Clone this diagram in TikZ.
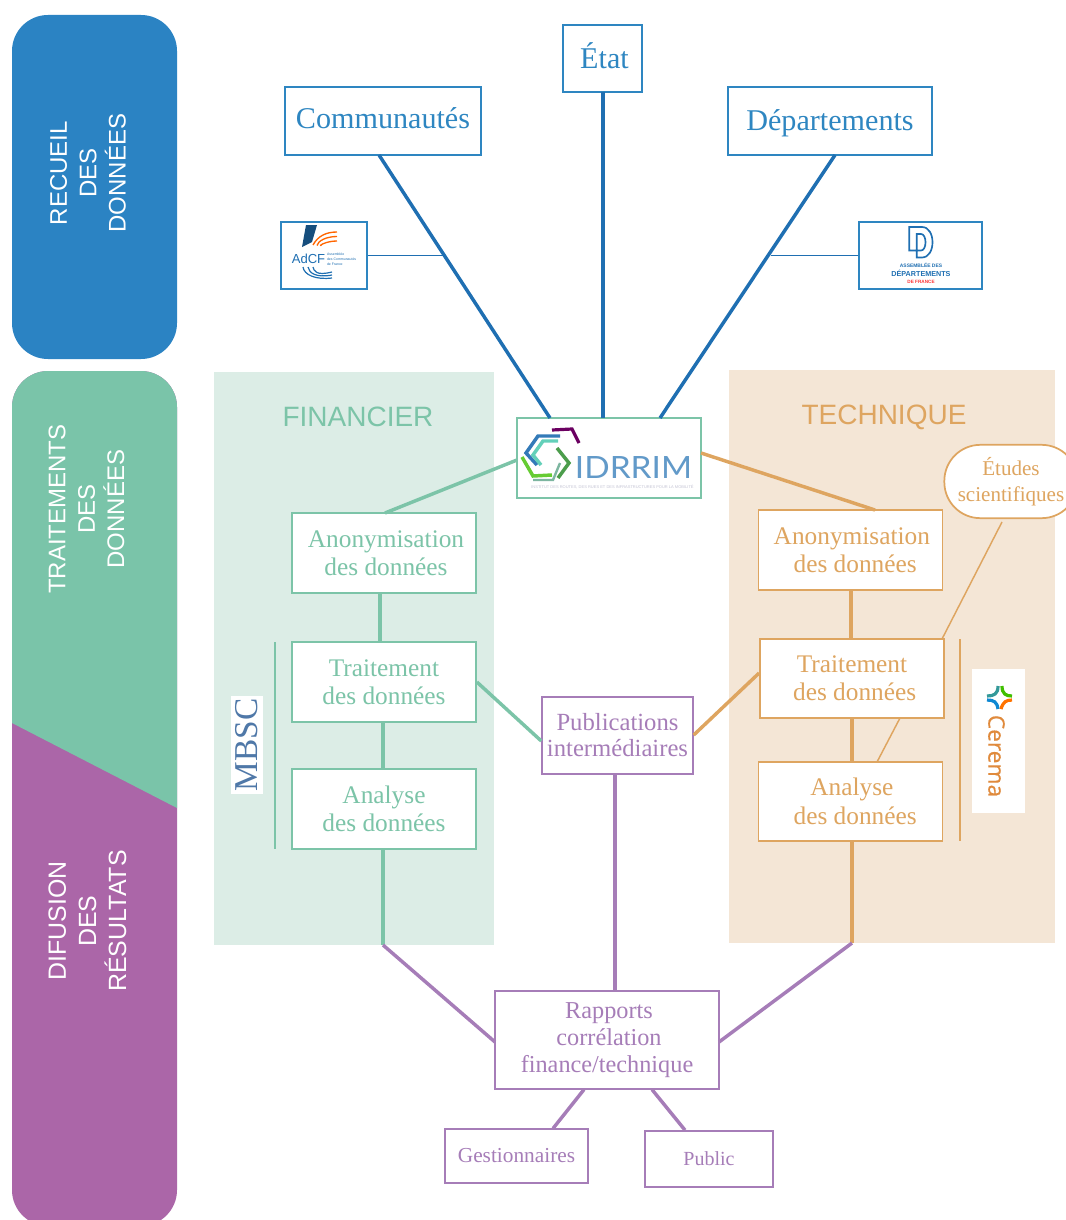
\documentclass[tikz,border=0pt]{standalone}
\usepackage{fontspec}
\setmainfont{Liberation Serif}
\setsansfont{Liberation Sans}
\newfontfamily\logofont{Lato}
\newfontfamily\ceremafont[FakeBold=0.4]{Open Sans}
\usetikzlibrary{positioning}
\definecolor{bluetext}{HTML}{2E86C1}
\definecolor{blueline}{HTML}{1F6FB2}
\definecolor{greenline}{HTML}{7CC4A8}
\definecolor{orangeline}{HTML}{DEA560}
\definecolor{purpleline}{HTML}{A67DB8}
\definecolor{bannerblue}{HTML}{2B83C3}
\definecolor{bannergreen}{HTML}{7AC4A9}
\definecolor{bannerpurple}{HTML}{AB66A8}
\definecolor{greenpanel}{HTML}{DCEDE6}
\definecolor{orangepanel}{HTML}{F4E6D6}
\definecolor{mbscblue}{HTML}{4F78A8}
\definecolor{ceremaorange}{HTML}{E08A3C}
\newcommand{\boxfont}{\fontsize{19}{21.3}\selectfont}
\begin{document}
\begin{tikzpicture}[x=0.75pt,y=-0.75pt,
    box node/.style={rectangle,draw,fill=white,line width=1.3pt,inner sep=0pt,align=center,font=\boxfont},
    blue node/.style={box node,draw=bluetext,text=bluetext,font=\fontsize{22.6}{26}\selectfont},
    green node/.style={box node,draw=greenline,text=greenline,minimum width=138pt,minimum height=60pt},
    orange node/.style={box node,draw=orangeline,text=orangeline,minimum width=138pt,minimum height=60pt},
    purple node/.style={box node,draw=purpleline,text=purpleline},
    banner text/.style={rotate=90,text=white,align=center,font=\sffamily\fontsize{18}{22}\selectfont},
    panel title/.style={font=\sffamily\fontsize{21}{25}\selectfont},
    thick line/.style={-,line width=2.6pt},
    thin line/.style={-,line width=1.1pt}]
  \useasboundingbox (0,0) rectangle (1065,1220);
  %left banners
  \fill[bannerblue,rounded corners=27pt] (12,15) rectangle (177,359);
  \fill[bannerpurple,rounded corners=27pt] (12,371) rectangle (177,1226);
  \begin{scope}
    \clip (0,360) -- (190,360) -- (190,815) -- (177,808) -- (12,723) -- (0,717) -- cycle;
    \fill[bannergreen,rounded corners=27pt] (12,371) rectangle (177,1226);
  \end{scope}
  \node[banner text] (recueil) at (88,173) {RECUEIL\\DES\\DONNÉES};
  \node[banner text] (traitements) at (86.5,509) {TRAITEMENTS\\DES\\DONNÉES};
  \node[banner text,font=\sffamily\fontsize{18.7}{22.6}\selectfont] (diffusion) at (87.5,921) {DIFUSION\\DES\\RÉSULTATS};
  %panels
  \fill[greenpanel] (214,372) rectangle (494,945);
  \fill[orangepanel] (729,370) rectangle (1055,943);
  \node[panel title,text=greenline] (financier) at (358,417) {FINANCIER};
  \node[panel title,text=orangeline] (technique) at (884,417) {TECHNIQUE};
  %nodes
  \node[blue node,minimum width=147pt,minimum height=51pt] (comm) at (383,121) {\raisebox{-6pt}[0pt][0pt]{Communautés}};
  \node[blue node,minimum width=59pt,minimum height=50pt] (etat) at (602.5,58.5) {\hspace*{3pt}\raisebox{-7.5pt}[0pt][0pt]{État}};
  \node[blue node,minimum width=153pt,minimum height=51pt] (dept) at (830,121) {\raisebox{-7.5pt}[0pt][0pt]{Départements}};
  \node[blue node,minimum width=65pt,minimum height=50pt] (adcf) at (324,255.5) {};
  \node[blue node,minimum width=92pt,minimum height=50pt] (adf) at (920.5,255.5) {};
  \node[box node,draw=greenline,minimum width=138pt,minimum height=60pt] (idrrim) at (609,458) {};
  \node[green node] (anonfin) at (384,553) {\hspace*{3pt}Anonymisation\\\hspace*{3pt}des données};
  \node[green node] (traitfin) at (384,682) {Traitement\\des données};
  \node[green node] (analysefin) at (384,809) {Analyse\\des données};
  \node[orange node] (anontech) at (850.5,550) {\hspace*{2pt}Anonymisation\\\hspace*{7pt}des données};
  \node[orange node,minimum height=59pt] (traittech) at (852,678.5) {Traitement\\\hspace*{4pt}des données};
  \node[orange node,minimum height=59pt] (analysetech) at (850.5,801.5) {\hspace*{2pt}Analyse\\\hspace*{7pt}des données};
  \node[box node,draw=orangeline,text=orangeline,rounded corners=27pt,minimum width=100pt,minimum height=55pt,
    font=\fontsize{15.8}{19.5}\selectfont] (etudes) at (1011,481.5) {Études\\scientifiques};
  \node[purple node,minimum width=113pt,minimum height=58pt,font=\fontsize{18.5}{19.5}\selectfont] (publi) at (617.5,735.5) {Publications\\intermédiaires};
  \node[purple node,minimum width=168pt,minimum height=73pt,font=\fontsize{18.2}{20}\selectfont] (rapports) at (607,1040) {\hspace*{3pt}Rapports\\\hspace*{3pt}corrélation\\finance/technique};
  \node[purple node,minimum width=107pt,minimum height=40pt,font=\fontsize{16}{18}\selectfont] (gest) at (516.5,1156) {Gestionnaires};
  \node[purple node,minimum width=96pt,minimum height=42pt,font=\fontsize{15}{18}\selectfont] (public) at (709,1159) {Public};
  \node[fill=white,text=mbscblue,rotate=90,inner sep=0pt,minimum width=73pt,minimum height=24pt,font=\fontsize{25}{25}\selectfont] (mbsc) at (246.5,745) {MBSC};
  \node[fill=white,minimum width=40pt,minimum height=108pt,inner sep=0pt] (cerema) at (998.5,741) {};
  %end points of the lines
  \coordinate (commS) at (379,155);
  \coordinate (deptS) at (835,155);
  \coordinate (etatS) at (603,92);
  \coordinate (idrA) at (550,418);
  \coordinate (idrB) at (603,418);
  \coordinate (idrC) at (660,418);
  \coordinate (idrL) at (517,460);
  \coordinate (idrR) at (701,453);
  \coordinate (adcfE) at (444,255.5);
  \coordinate (adfE) at (771,255.5);
  \coordinate (anonfinN) at (385,513);
  \coordinate (anontechN) at (875,510);
  \coordinate (elbowfin) at (383,945);
  \coordinate (elbowtech) at (852,943);
  \coordinate (rapL) at (495,1042);
  \coordinate (rapR) at (719,1042);
  \coordinate (etudesS) at (1002,522);
  \coordinate (traitN) at (942,639);
  \coordinate (traitS) at (900,718);
  \coordinate (analyseN) at (877,762);
  \coordinate (mbscT) at (275,642);
  \coordinate (mbscB) at (275,849);
  \coordinate (ceremaT) at (960,639);
  \coordinate (ceremaB) at (960,841);
  %connectors
  \path[thick line,blueline] (commS) edge (idrA);
  \path[thick line,blueline] (etatS) edge (idrB);
  \path[thick line,blueline] (deptS) edge (idrC);
  \path[thin line,blueline,line width=1.1pt] (adcf.east) edge (adcfE);
  \path[thin line,blueline,line width=1.1pt] (adf.west) edge (adfE);
  \path[thick line,greenline] (idrL) edge (anonfinN);
  \path[thick line,orangeline] (idrR) edge (anontechN);
  \path[thick line,greenline] (anonfin.south -| 380,0) edge (traitfin.north -| 380,0);
  \path[thick line,greenline] (traitfin.south -| 383,0) edge (analysefin.north -| 383,0);
  \path[thick line,greenline] (analysefin.south -| 383,0) edge (elbowfin);
  \path[thick line,purpleline] (elbowfin) edge (rapL);
  \path[thick line,orangeline] (anontech.south -| 851,0) edge (traittech.north -| 851,0);
  \path[thick line,orangeline] (traittech.south -| 852,0) edge (analysetech.north -| 852,0);
  \path[thick line,orangeline] (analysetech.south -| 852,0) edge (elbowtech);
  \path[thick line,purpleline] (elbowtech) edge (rapR);
  \path[thick line,greenline] (traitfin.east |- 0,682) edge (publi.west |- 0,741);
  \path[thick line,orangeline] (traittech.west |- 0,673) edge (publi.east |- 0,735);
  \path[thick line,purpleline] (publi.south -| 615,0) edge (rapports.north -| 615,0);
  \path[thick line,purpleline] (rapports.south -| 584,0) edge (gest.north -| 553,0);
  \path[thick line,purpleline] (rapports.south -| 652,0) edge (public.north -| 685,0);
  \path[thin line,orangeline] (etudesS) edge (traitN);
  \path[thin line,orangeline] (traitS) edge (analyseN);
  \path[thin line,greenline] (mbscT) edge (mbscB);
  \path[thin line,orangeline] (ceremaT) edge (ceremaB);
  %AdCF logo
  \fill[blueline!70!black] (306,225) -- (317,225) -- (312,242) -- (302,247) -- cycle;
  \foreach \r in {0,5,10} {
    \draw[orange!80!red,line width=1pt] (313+\r*0.8,245+\r*0.1) .. controls (318,236+\r) and (326,232+\r*0.9) .. (337,232+\r*0.9);
    \draw[blueline,line width=0.9pt] (303+\r,267) .. controls (304+\r,275-\r*0.4) and (316,280-\r*0.4) .. (332,278-\r*0.6);
  }
  \node[text=blueline,inner sep=0pt,font=\sffamily\fontsize{9.8}{10}\selectfont] (adcftext) at (308.5,259) {AdCF};
  \node[text=blueline,inner sep=0pt,align=left,right=1pt of adcftext,font=\sffamily\fontsize{2.6}{3.8}\selectfont] (adcfname) {Assemblée\\des Communautés\\de France};
  %ADF logo
  \draw[blueline,line width=1.25pt] (909.3,227) -- (922,227) .. controls (936,227) and (936,257.5) .. (922,257.5) -- (916.7,257.5) -- (916.7,234)
    -- (921,234) .. controls (927,234) and (927,250.5) .. (921,250.5) -- (909.3,250.5) -- cycle;
  \node[text=blueline,inner sep=0pt,font=\sffamily\bfseries\fontsize{3.7}{4}\selectfont] (adf1) at (921,265) {ASSEMBLÉE DES};
  \node[text=blueline,inner sep=0pt,font=\sffamily\bfseries\fontsize{5.4}{6}\selectfont] (adf2) at (921,273) {DÉPARTEMENTS};
  \node[text=red!80!white,inner sep=0pt,font=\sffamily\bfseries\fontsize{3.5}{4}\selectfont] (adf3) at (921,281.5) {DE FRANCE};
  %IDRRIM logo
  \draw[purple!70!blue!80!black,line width=2.4pt] (552,430) -- (572,429) -- (579,443);
  \draw[teal!70!blue!80!white,line width=2.6pt] (560,436) -- (538,436) -- (526,453) -- (537,465);
  \draw[greenline!80!cyan,line width=2.6pt] (558,441) -- (543,441) -- (533,455) -- (541,465);
  \draw[green!50!olive!80!white,line width=2.6pt] (522,457) -- (533,476) -- (552,475);
  \draw[green!45!black!70!white,line width=2.6pt] (557,448) -- (569,463) -- (558,478);
  \draw[greenline!80!gray,line width=1.8pt] (533,480) -- (553,480) -- (560,463);
  \node[text=blueline!70!white,inner sep=0pt,xscale=1.09,font=\logofont\fontsize{23}{23}\selectfont] (idrrimtext) at (633.5,468) {IDRRIM};
  \node[text=blue!15!gray!40!white,inner sep=0pt,font=\sffamily\fontsize{3}{3}\selectfont] (idrrimsub) at (612.5,487) {INSTITUT DES ROUTES, DES RUES ET DES INFRASTRUCTURES POUR LA MOBILITÉ};
  %Cerema logo
  \draw[teal!80!white,line width=2.4pt] (998,686) .. controls (998,694) and (994,696) .. (987,696);
  \draw[green!50!olive,line width=2.4pt] (1002,686) .. controls (1002,694) and (1006,696) .. (1012,696);
  \draw[cyan!70!blue,line width=2.4pt] (987,700) .. controls (994,700) and (997,702) .. (998,709);
  \draw[orange!90!red,line width=2.4pt] (1012,700) .. controls (1006,700) and (1003,702) .. (1001,709);
  \node[text=ceremaorange,rotate=-90,inner sep=0pt,font=\ceremafont\fontsize{17}{17}\selectfont] (cerematext) at (996.5,756) {Cerema};
\end{tikzpicture}
\end{document}
